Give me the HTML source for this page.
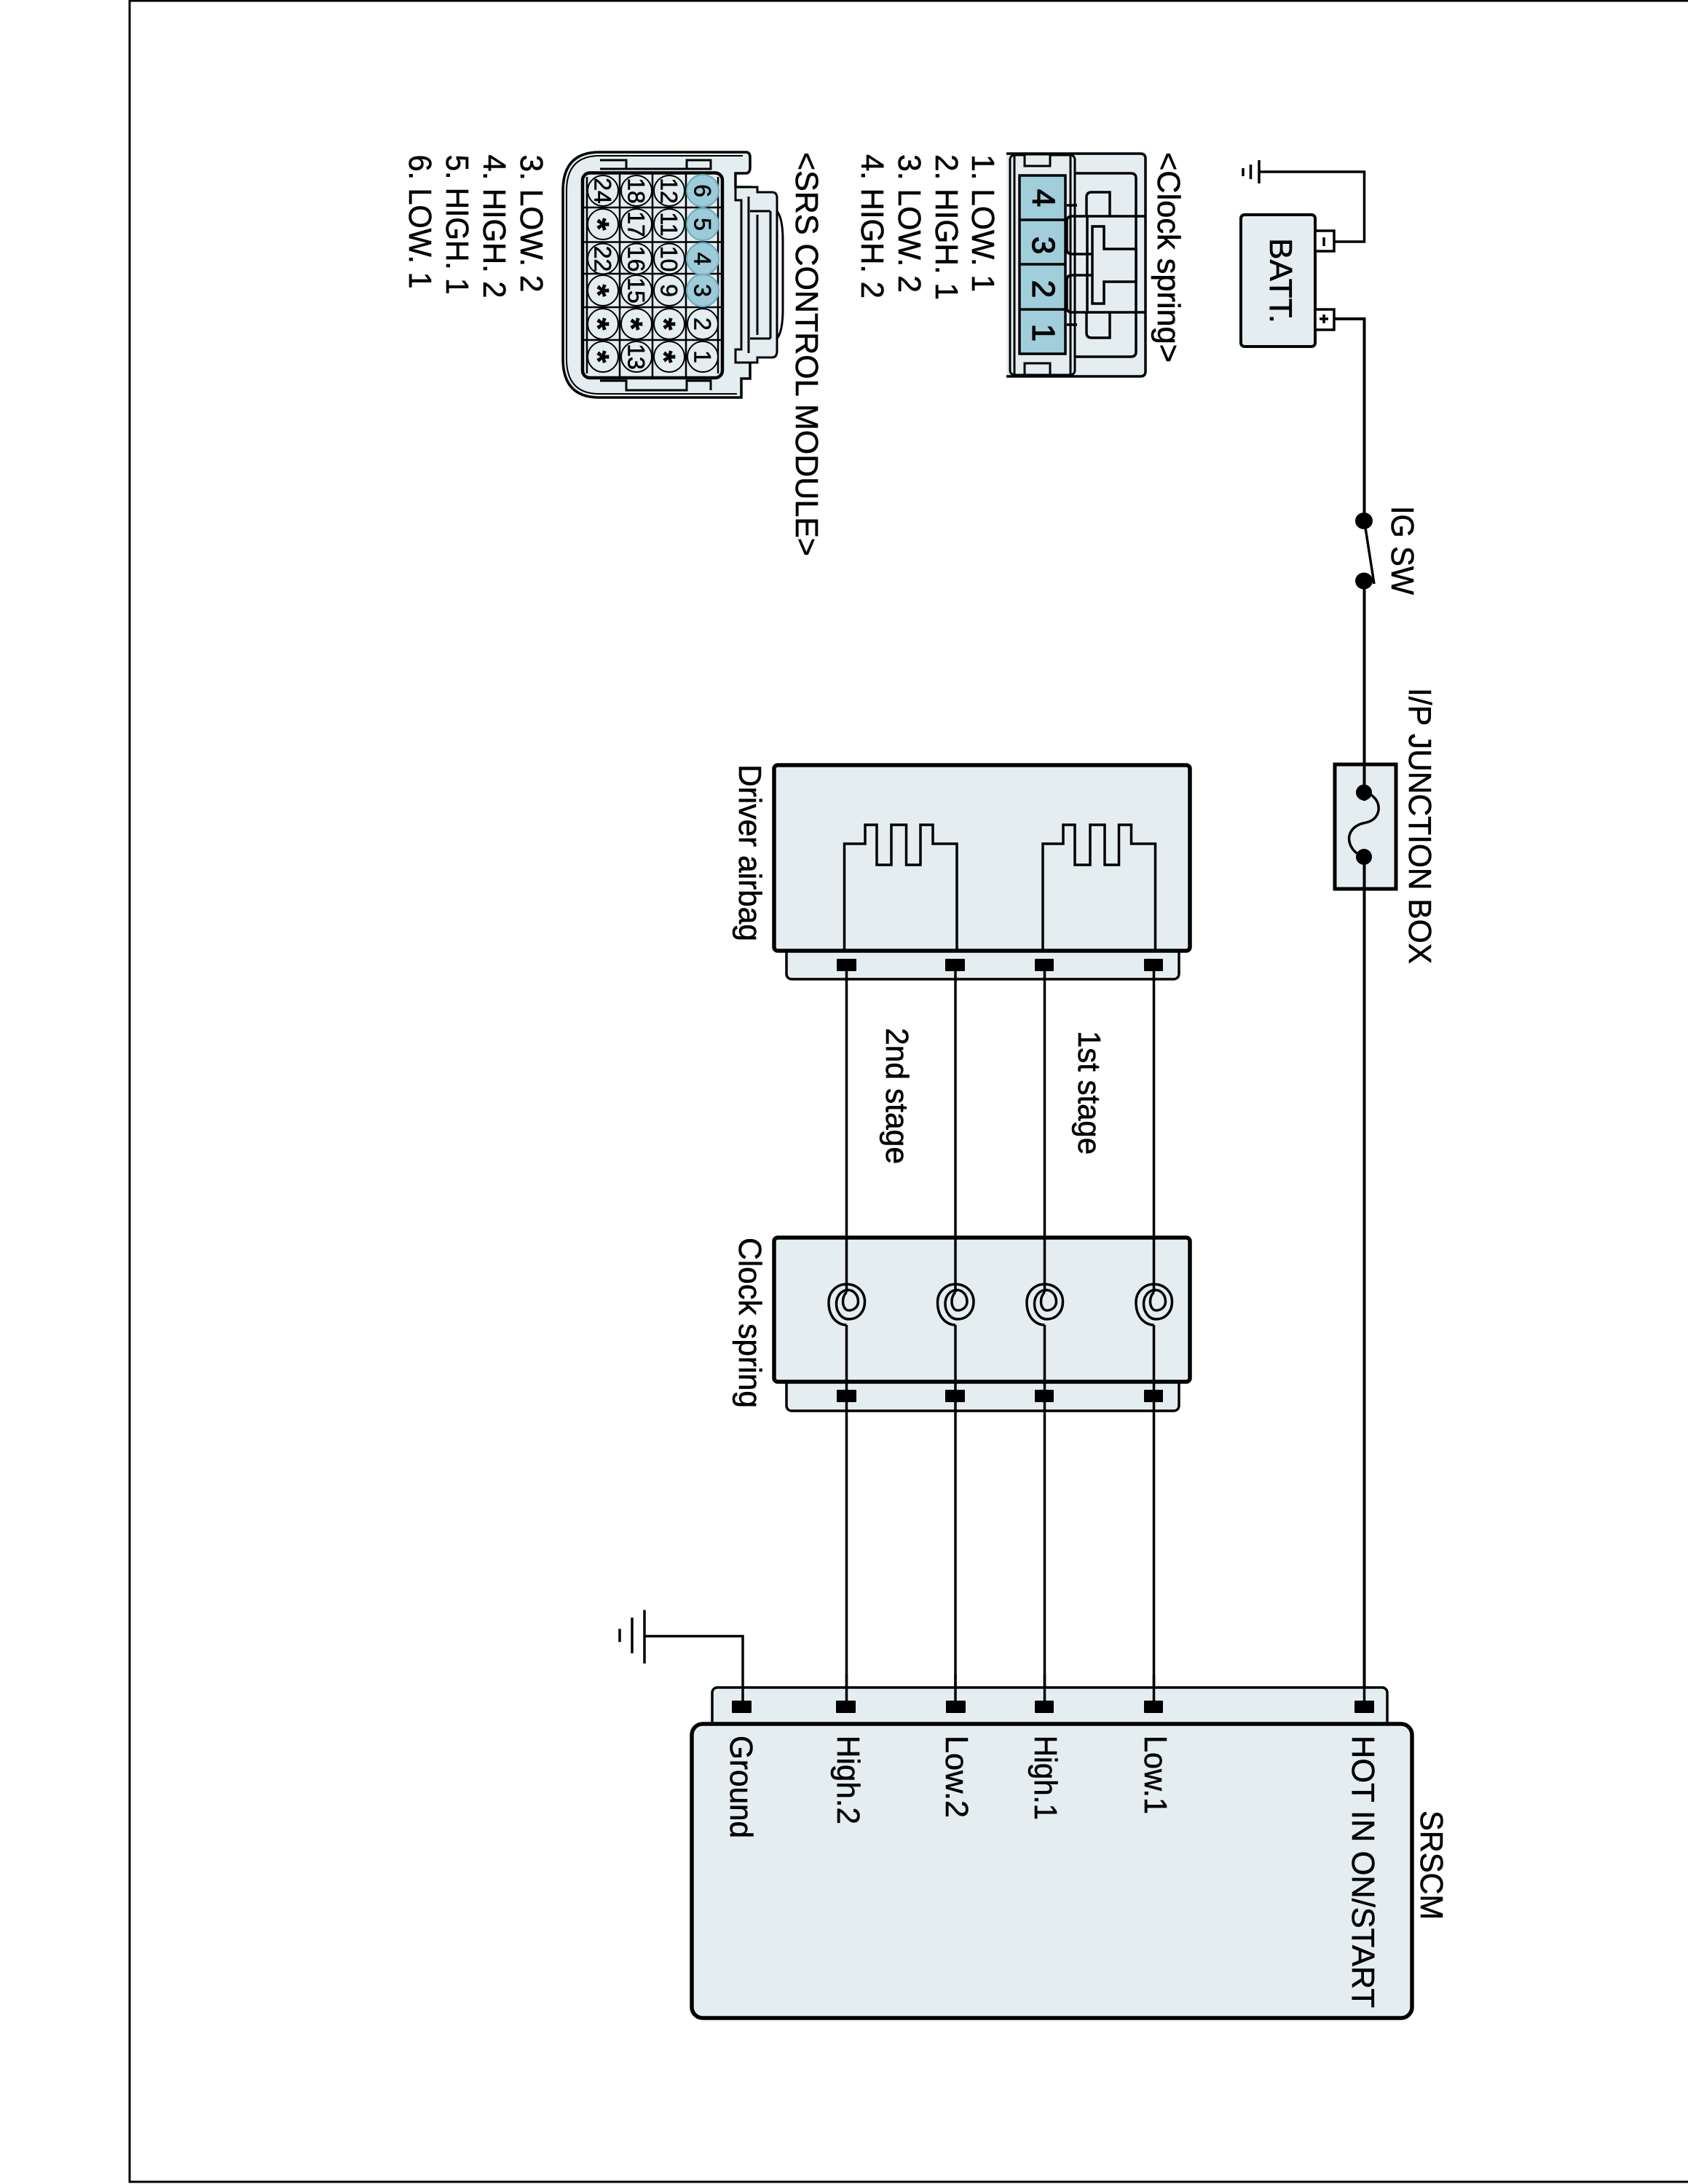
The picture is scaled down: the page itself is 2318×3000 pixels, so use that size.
<!DOCTYPE html>
<html><head><meta charset="utf-8"><style>
html,body{margin:0;padding:0;background:#fff}
svg{display:block}
text{font-family:"Liberation Sans",sans-serif;fill:#000;stroke:#000;stroke-width:.6px}
.l{font-size:44px}
.c{font-size:32px;text-anchor:middle}
.a{font-size:44px;font-weight:bold;text-anchor:middle}
.s{stroke:#000;fill:none}
.f{fill:#e4eef0;stroke:#000}
.t{fill:#a0cedb}
.w{stroke:#000;stroke-width:3.500;fill:none}
</style></head><body>
<svg xmlns="http://www.w3.org/2000/svg" width="2318" height="3000" viewBox="0 0 2318 3000">
<rect width="2318" height="3000" fill="#fff"/>
<!-- frame -->
<path class="s" stroke-width="3" d="M2318 1H178V2997H2318"/>

<!-- battery + wiring -->
<rect class="f" x="1704" y="295" width="102" height="181" rx="5" stroke-width="4"/>
<rect x="1806" y="317" width="26" height="28" fill="#fff" stroke="#000" stroke-width="3.500"/>
<rect x="1806" y="425" width="26" height="28" fill="#fff" stroke="#000" stroke-width="3.500"/>
<path class="s" stroke-width="3.500" d="M1832 332H1873.500V236H1729M1729 220V252"/>
<path class="s" stroke-width="3.500" d="M1717.500 226V246M1707 231V242"/>
<path class="s" stroke-width="4" d="M1832 438H1873.500V2345"/>
<path class="s" stroke-width="3.500" d="M1818 326V338M1812 438H1824M1818 432V444"/>
<text class="l" transform="translate(1744,327) rotate(90)" textLength="117" lengthAdjust="spacingAndGlyphs">BATT.</text>

<!-- IG SW -->
<rect x="1868" y="720" width="11" height="70" fill="#fff"/>
<ellipse cx="1873" cy="715.500" rx="12" ry="11.500"/>
<ellipse cx="1873" cy="798" rx="12" ry="11.500"/>
<path class="s" stroke-width="3.500" d="M1875 725L1887 802"/>
<text class="l" transform="translate(1911,695) rotate(90)" textLength="122" lengthAdjust="spacingAndGlyphs">IG SW</text>

<!-- I/P junction -->
<rect class="f" x="1833" y="1050" width="84" height="171" stroke-width="5"/>
<path class="s" stroke-width="4" d="M1873.500 1040V1230"/>
<rect x="1868" y="1100" width="11" height="66" fill="#e4eef0"/>
<ellipse cx="1873" cy="1088.500" rx="11" ry="11"/>
<ellipse cx="1873" cy="1177" rx="11" ry="11"/>
<path class="s" stroke-width="3.500" d="M1880 1090C1890 1096 1894 1104 1893 1113C1891 1125 1882 1129 1873 1130.500C1862 1133 1853 1140 1852.500 1152C1853 1163 1860 1171 1868 1175"/>
<text class="l" transform="translate(1935,945) rotate(90)" textLength="379" lengthAdjust="spacingAndGlyphs">I/P JUNCTION BOX</text>

<!-- Clock spring connector (top) -->
<path class="f" stroke-width="3.500" d="M1382 211H1566Q1573 211 1573 218V510Q1573 517 1566 517H1382"/>
<rect x="1387" y="213" width="89" height="302" rx="6" fill="#e4eef0" stroke="#000" stroke-width="3"/>
<path class="s" stroke-width="3" d="M1393 213V515M1470 213V515"/>
<rect x="1407" y="212" width="35" height="16" fill="#e4eef0" stroke="#000" stroke-width="3"/>
<rect x="1407" y="499" width="35" height="16" fill="#e4eef0" stroke="#000" stroke-width="3"/>
<rect x="1400" y="241" width="63" height="245" class="t" stroke="#000" stroke-width="3.500"/>
<path class="s" stroke-width="3.500" d="M1400 302H1463M1400 363H1463M1400 425H1463"/>
<path class="s" stroke-width="3.500" d="M1476 238H1553Q1560 238 1560 245V483Q1560 490 1553 490H1476"/>
<path class="s" stroke-width="3.500" d="M1573 297H1472Q1465 297 1465 304V342Q1465 349 1472 349H1500M1573 429H1472Q1465 429 1465 422V385Q1465 378 1472 378H1500M1493 297V429"/>
<path d="M1500 311H1516V342H1560V387H1516V417H1500Z" fill="#e4eef0" stroke="#000" stroke-width="3.500"/>
<path class="s" stroke-width="3.500" d="M1524 297V264H1499Q1492 264 1492 271V297M1524 430V464H1499Q1492 464 1492 457V430M1465 282H1479M1465 446H1479"/>
<text class="a" style="font-weight:normal;stroke-width:1.200px" transform="translate(1418,272) rotate(90)">4</text>
<text class="a" style="font-weight:normal;stroke-width:1.200px" transform="translate(1418,337) rotate(90)">3</text>
<text class="a" style="font-weight:normal;stroke-width:1.200px" transform="translate(1418,397) rotate(90)">2</text>
<text class="a" style="font-weight:normal;stroke-width:1.200px" transform="translate(1418,457) rotate(90)">1</text>
<text class="l" transform="translate(1590,209) rotate(90)" textLength="289" lengthAdjust="spacingAndGlyphs">&lt;Clock spring&gt;</text>
<text class="l" transform="translate(1335,212) rotate(90)" textLength="189" lengthAdjust="spacingAndGlyphs">1. LOW. 1</text>
<text class="l" transform="translate(1285,212) rotate(90)" textLength="200" lengthAdjust="spacingAndGlyphs">2. HIGH. 1</text>
<text class="l" transform="translate(1234,212) rotate(90)" textLength="190" lengthAdjust="spacingAndGlyphs">3. LOW. 2</text>
<text class="l" transform="translate(1183,212) rotate(90)" textLength="198" lengthAdjust="spacingAndGlyphs">4. HIGH. 2</text>

<!-- SRS connector -->
<path class="f" stroke-width="3.500" d="M1024 209H823Q773 209 773 262V493Q773 546 823 546H1018V520H1030V257H1010V238H1024Q1030 238 1030 230V216Q1030 209 1024 209Z"/>
<path class="s" stroke-width="2" d="M1020 214H823Q778 214 778 262V493Q778 541 823 541H1012"/>
<path d="M1010 257H1040V264H1060Q1067 264 1067 272V482Q1067 491 1060 491H1040V498H1010V480H1018V275H1010Z" fill="#e4eef0" stroke="#000" stroke-width="3"/>
<path class="s" stroke-width="3" d="M1067 290Q1075 300 1075 330V425Q1075 455 1067 465M1028 270V485M1040 295V460M1030 290H1058M1030 465H1058M1058 290V465"/>
<path d="M824 220H860V232H943V220H976V232H943M824 232H860M824 523H860V536H943V523H976V536" fill="none" stroke="#000" stroke-width="3"/>
<rect x="800" y="237.500" width="192" height="281.500" rx="10" fill="#e4eef0" stroke="#000" stroke-width="4.500"/>
<path class="s" stroke-width="2.500" d="M806 243V513M851 238V519M896 238V519M942 238V519M986 243V513M800 285H992M800 332.500H992M800 376H992M800 422H992M800 467H992"/>
<g fill="#e4eef0" stroke="#000" stroke-width="2">
<circle cx="828" cy="262" r="21"/><circle cx="828" cy="308" r="21"/><circle cx="828" cy="355.500" r="21"/><circle cx="828" cy="399" r="21"/><circle cx="828" cy="445" r="21"/><circle cx="828" cy="490" r="21"/>
<circle cx="874" cy="262" r="21"/><circle cx="874" cy="308" r="21"/><circle cx="874" cy="355.500" r="21"/><circle cx="874" cy="399" r="21"/><circle cx="874" cy="445" r="21"/><circle cx="874" cy="490" r="21"/>
<circle cx="919" cy="262" r="21"/><circle cx="919" cy="308" r="21"/><circle cx="919" cy="355.500" r="21"/><circle cx="919" cy="399" r="21"/><circle cx="919" cy="445" r="21"/><circle cx="919" cy="490" r="21"/>
<circle cx="965" cy="445" r="21"/><circle cx="965" cy="490" r="21"/>
</g>
<g fill="#9ccbd9" stroke="#6fa9ba" stroke-width="2">
<circle cx="965" cy="262" r="22"/><circle cx="965" cy="308" r="22"/><circle cx="965" cy="355.500" r="22"/><circle cx="965" cy="399" r="22"/>
</g>
<g>
<text class="c" dy=".36em" transform="translate(965,262) rotate(90)">6</text>
<text class="c" dy=".36em" transform="translate(965,308) rotate(90)">5</text>
<text class="c" dy=".36em" transform="translate(965,355.500) rotate(90)">4</text>
<text class="c" dy=".36em" transform="translate(965,399) rotate(90)">3</text>
<text class="c" dy=".36em" transform="translate(965,445) rotate(90)">2</text>
<text class="c" dy=".36em" transform="translate(965,490) rotate(90)">1</text>
<text class="c" dy=".36em" transform="translate(919,262) rotate(90)">12</text>
<text class="c" dy=".36em" transform="translate(919,308) rotate(90)">11</text>
<text class="c" dy=".36em" transform="translate(919,355.500) rotate(90)">10</text>
<text class="c" dy=".36em" transform="translate(919,399) rotate(90)">9</text>
<text class="a" dy=".5em" transform="translate(919,445) rotate(90)">*</text>
<text class="a" dy=".5em" transform="translate(919,490) rotate(90)">*</text>
<text class="c" dy=".36em" transform="translate(874,262) rotate(90)">18</text>
<text class="c" dy=".36em" transform="translate(874,308) rotate(90)">17</text>
<text class="c" dy=".36em" transform="translate(874,355.500) rotate(90)">16</text>
<text class="c" dy=".36em" transform="translate(874,399) rotate(90)">15</text>
<text class="a" dy=".5em" transform="translate(874,445) rotate(90)">*</text>
<text class="c" dy=".36em" transform="translate(874,490) rotate(90)">13</text>
<text class="c" dy=".36em" transform="translate(828,262) rotate(90)">24</text>
<text class="a" dy=".5em" transform="translate(828,308) rotate(90)">*</text>
<text class="c" dy=".36em" transform="translate(828,355.500) rotate(90)">22</text>
<text class="a" dy=".5em" transform="translate(828,399) rotate(90)">*</text>
<text class="a" dy=".5em" transform="translate(828,445) rotate(90)">*</text>
<text class="a" dy=".5em" transform="translate(828,490) rotate(90)">*</text>
</g>
<text class="l" transform="translate(1093,209) rotate(90)" textLength="555" lengthAdjust="spacingAndGlyphs">&lt;SRS CONTROL MODULE&gt;</text>
<text class="l" transform="translate(715,212.500) rotate(90)" textLength="189" lengthAdjust="spacingAndGlyphs">3. LOW. 2</text>
<text class="l" transform="translate(664,212.500) rotate(90)" textLength="197" lengthAdjust="spacingAndGlyphs">4. HIGH. 2</text>
<text class="l" transform="translate(613,212.500) rotate(90)" textLength="192" lengthAdjust="spacingAndGlyphs">5. HIGH. 1</text>
<text class="l" transform="translate(562,212.500) rotate(90)" textLength="184" lengthAdjust="spacingAndGlyphs">6. LOW. 1</text>

<!-- Driver airbag -->
<rect class="f" x="1080" y="1300" width="539" height="45" rx="7" stroke-width="3.500"/>
<rect class="f" x="1063" y="1051" width="571" height="255" rx="5" stroke-width="5.500"/>
<path class="s" stroke-width="3.500" d="M1159.500 1304V1159H1188V1133H1204V1188H1224V1133H1244.500V1188H1264V1133H1281V1159H1314V1304"/>
<path class="s" stroke-width="3.500" d="M1432 1304V1159H1460V1133H1476V1188H1497V1133H1517V1188H1536.500V1133H1553.500V1159H1586.500V1304"/>
<text class="l" transform="translate(1015,1050) rotate(90)" textLength="243" lengthAdjust="spacingAndGlyphs">Driver airbag</text>

<!-- Clock spring -->
<rect class="f" x="1080" y="1890" width="539" height="48" rx="7" stroke-width="3.500"/>
<rect class="f" x="1063" y="1700" width="571" height="198" rx="5" stroke-width="5.500"/>
<text class="l" transform="translate(1015,1700) rotate(90)" textLength="234" lengthAdjust="spacingAndGlyphs">Clock spring</text>

<!-- harness wires -->
<path class="w" d="M1162.500 1333V1775M1312 1333V1775M1434.500 1333V1775M1584.500 1333V1775"/>
<path class="w" d="M1162.500 1820V2345M1312 1820V2345M1434.500 1820V2345M1584.500 1820V2345"/>
<g class="w">
<path d="M0 32C-10 32-24 24-24.500 2C-25-14-13-24 0-24C14-24 25-14 25 0C25 14 16 24 3 24C-7 24-14 14-14 3C-14-8-7-16 2-16C10-16 16-9 16 0C16 7 10 12 3 12C-2 12-5 6-5 0C-5-6-3-10 0-13" transform="translate(1162.500,1788)"/>
<path d="M0 32C-10 32-24 24-24.500 2C-25-14-13-24 0-24C14-24 25-14 25 0C25 14 16 24 3 24C-7 24-14 14-14 3C-14-8-7-16 2-16C10-16 16-9 16 0C16 7 10 12 3 12C-2 12-5 6-5 0C-5-6-3-10 0-13" transform="translate(1312,1788)"/>
<path d="M0 32C-10 32-24 24-24.500 2C-25-14-13-24 0-24C14-24 25-14 25 0C25 14 16 24 3 24C-7 24-14 14-14 3C-14-8-7-16 2-16C10-16 16-9 16 0C16 7 10 12 3 12C-2 12-5 6-5 0C-5-6-3-10 0-13" transform="translate(1434.500,1788)"/>
<path d="M0 32C-10 32-24 24-24.500 2C-25-14-13-24 0-24C14-24 25-14 25 0C25 14 16 24 3 24C-7 24-14 14-14 3C-14-8-7-16 2-16C10-16 16-9 16 0C16 7 10 12 3 12C-2 12-5 6-5 0C-5-6-3-10 0-13" transform="translate(1584.500,1788)"/>
</g>
<text class="l" transform="translate(1217,1412) rotate(90)" textLength="187" lengthAdjust="spacingAndGlyphs">2nd stage</text>
<text class="l" transform="translate(1481,1416) rotate(90)" textLength="170" lengthAdjust="spacingAndGlyphs">1st stage</text>

<!-- pins airbag / clock spring -->
<g>
<rect x="1149" y="1317" width="27" height="17" rx="1"/><rect x="1298" y="1317" width="27" height="17" rx="1"/><rect x="1421" y="1317" width="26" height="17" rx="1"/><rect x="1571" y="1317" width="26" height="17" rx="1"/>
<rect x="1149" y="1909" width="27" height="17" rx="1"/><rect x="1298" y="1909" width="27" height="17" rx="1"/><rect x="1421" y="1909" width="26" height="17" rx="1"/><rect x="1571" y="1909" width="26" height="17" rx="1"/>
</g>

<!-- SRSCM -->
<rect class="f" x="978" y="2318" width="927" height="60" rx="7" stroke-width="3.500"/>
<path class="w" d="M1162.500 2300V2340M1312 2300V2340M1434.500 2300V2340M1584.500 2300V2340M1873.500 2300V2340"/>
<rect class="f" x="950" y="2368" width="989" height="404" rx="15" stroke-width="5.500"/>
<path class="s" stroke-width="3.500" d="M1020 2340V2247.500H885M885 2211.500V2285M868 2222V2271M851 2237.500V2255.500"/>
<g>
<rect x="1005" y="2336" width="27" height="17" rx="1"/><rect x="1148" y="2336" width="27" height="17" rx="1"/><rect x="1299" y="2336" width="27" height="17" rx="1"/><rect x="1421" y="2336" width="26" height="17" rx="1"/><rect x="1571" y="2336" width="26" height="17" rx="1"/><rect x="1860" y="2336" width="27" height="17" rx="1"/>
</g>
<text class="l" transform="translate(1003,2384) rotate(90)" textLength="141" lengthAdjust="spacingAndGlyphs">Ground</text>
<text class="l" transform="translate(1150,2384) rotate(90)" textLength="122" lengthAdjust="spacingAndGlyphs">High.2</text>
<text class="l" transform="translate(1299,2384) rotate(90)" textLength="113" lengthAdjust="spacingAndGlyphs">Low.2</text>
<text class="l" transform="translate(1421,2384) rotate(90)" textLength="116" lengthAdjust="spacingAndGlyphs">High.1</text>
<text class="l" transform="translate(1572,2384) rotate(90)" textLength="108" lengthAdjust="spacingAndGlyphs">Low.1</text>
<text class="l" transform="translate(1857,2384) rotate(90)" textLength="374" lengthAdjust="spacingAndGlyphs">HOT IN ON/START</text>
<text class="l" transform="translate(1951,2487) rotate(90)" textLength="150" lengthAdjust="spacingAndGlyphs">SRSCM</text>
</svg>
</body></html>
